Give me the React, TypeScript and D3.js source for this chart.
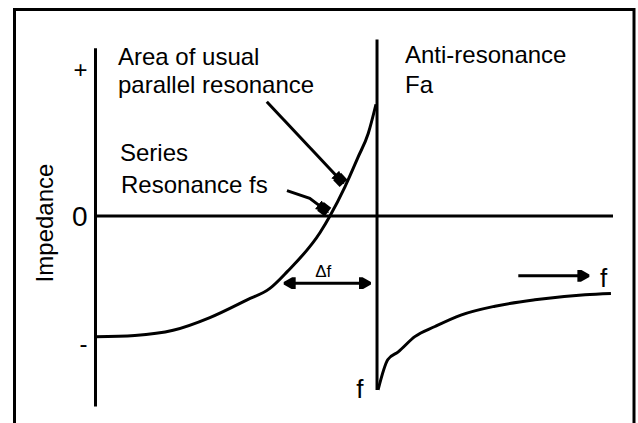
import React from 'react';
import * as d3 from 'd3';

// curve values: frequency (arbitrary units), impedance (arbitrary units)
const seriesFreq = [0, 0.76, 1.5, 2.21, 2.93, 3.37, 3.7, 4.34, 4.53, 4.82, 5.07, 5.27, 5.42];
const seriesImp = [-0.95, -0.94, -0.9, -0.8, -0.66, -0.57, -0.44, -0.13, 0, 0.23, 0.46, 0.65, 0.88];
const antiFreq = [5.46, 5.65, 5.85, 6.17, 6.56, 7.06, 7.72, 8.49, 9.46, 9.96];
const antiImp = [-1.37, -1.13, -1.07, -0.95, -0.87, -0.78, -0.71, -0.66, -0.62, -0.61];

const yTickLabels = ['+', '0', '-'];
const yTickValues = [1.15, 0, -1];

const fa = 5.44;

const W = 638;
const H = 423;

const x = d3.scaleLinear().domain([0, 10]).range([95.5, 613]);
const y = d3.scaleLinear().domain([-1, 1]).range([343, 89]);

const line = d3.line<[number, number]>()
  .x(d => x(d[0]))
  .y(d => y(d[1]))
  .curve(d3.curveMonotoneX);

const poly = d3.line<[number, number]>()
  .x(d => x(d[0]))
  .y(d => y(d[1]));

const font = '"Liberation Sans", Arial, sans-serif';

export default function App() {
  const left = seriesFreq.map((f, i) => [f, seriesImp[i]] as [number, number]);
  const right = antiFreq.map((f, i) => [f, antiImp[i]] as [number, number]);

  return (
    <svg width={W} height={H} style={{ position: 'absolute', left: 0, top: 0, background: '#fff' }}
      fontFamily={font}>
      <defs>
        <marker id="head" viewBox="0 0 10 10" refX={9} refY={5} markerWidth={4.5} markerHeight={4}
          markerUnits="strokeWidth" orient="auto-start-reverse">
          <path d="M0,0L3,0L10,4L10,6L3,10L0,10Z" fill="#000" />
        </marker>
        <marker id="blob" viewBox="0 0 10 10" refX={6} refY={5} markerWidth={4.5} markerHeight={4.5}
          markerUnits="strokeWidth" orient="auto">
          <path d="M0,1L10,5L0,9Z" fill="#000" />
          <rect x={2} y={1} width={7} height={8} fill="#000" />
        </marker>
      </defs>

      {/* frame */}
      <rect x={14.5} y={9.5} width={619.5} height={440} fill="none" stroke="#000" strokeWidth={3} />

      {/* axes */}
      <g stroke="#000" strokeWidth={3}>
        <line x1={x(0)} x2={x(0)} y1={y(1.32)} y2={y(-1.5)} />
        <line x1={x(0)} x2={x(10)} y1={y(0)} y2={y(0)} />
        <line x1={x(fa)} x2={x(fa)} y1={y(1.39)} y2={y(-1.37)} />
      </g>

      {yTickLabels.map((t, i) => (
        <text key={t} x={x(0) - 8} y={y(yTickValues[i])} textAnchor="end" dominantBaseline="central"
          fontSize={t === '0' ? 28 : 24}>{t}</text>
      ))}

      <text transform={`translate(53, 223) rotate(-90)`} textAnchor="middle" fontSize={24}>Impedance</text>

      {/* curves */}
      <path d={line(left) || ''} fill="none" stroke="#000" strokeWidth={3} />
      <path d={line(right) || ''} fill="none" stroke="#000" strokeWidth={3} />

      {/* labels */}
      <g fontSize={24}>
        <text x={118} y={65}>Area of usual</text>
        <text x={118} y={93}>parallel resonance</text>
        <text x={120} y={161}>Series</text>
        <text x={121} y={193}>Resonance fs</text>
        <text x={405} y={63}>Anti-resonance</text>
        <text x={405} y={93}>Fa</text>
      </g>

      {/* annotation arrows */}
      <g stroke="#000" strokeWidth={3} fill="none">
        <path d={poly([[3.31, 0.9], [4.74, 0.28]]) || ''} markerEnd="url(#blob)" />
        <path d={poly([[3.7, 0.2], [4.14, 0.14], [4.43, 0.05]]) || ''} markerEnd="url(#blob)" />
        <path d={poly([[3.66, -0.53], [5.3, -0.53]]) || ''} markerStart="url(#head)" markerEnd="url(#head)" />
        <path d={poly([[8.17, -0.47], [9.52, -0.47]]) || ''} markerEnd="url(#head)" />
      </g>

      <text x={x(4.4)} y={y(-0.48)} textAnchor="middle" fontSize={17}>Δf</text>
      <text x={x(9.75)} y={y(-0.56)} fontSize={26}>f</text>
      <text x={x(5.11)} y={y(-1.43)} textAnchor="middle" fontSize={26}>f</text>
    </svg>
  );
}
